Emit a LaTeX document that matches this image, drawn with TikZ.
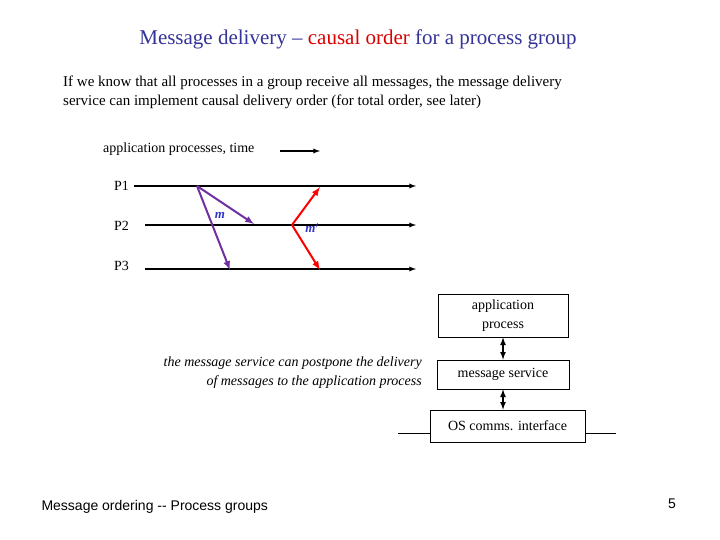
\documentclass[tikz,border=0pt]{standalone}
\usepackage{fontspec}
\setmainfont{Liberation Serif}
\newfontfamily\arialf{Liberation Sans}
\begin{document}
\begin{tikzpicture}[x=1pt,y=-1pt,
  ln/.style={line width=1.3pt,-latex},
  pu/.style={line width=2pt,draw={rgb,255:red,112;green,48;blue,160},-latex},
  rd/.style={line width=2pt,draw=red,-latex},
  bx/.style={draw,line width=0.8pt,align=center,inner sep=0pt,font=\fontsize{14}{19}\selectfont},
  txt/.style={font=\fontsize{14}{19}\selectfont,inner sep=0pt},
  da/.style={line width=1.6pt,latex-latex}]
\useasboundingbox (0,0) rectangle (720,540);
\node[font=\fontsize{21}{25}\selectfont,text={rgb,255:red,51;green,51;blue,153}] (title) at (358,39) {Message delivery -- \textcolor{red!85!black}{causal order} for a process group};
\node[txt,anchor=west,align=left,font=\fontsize{15}{19}\selectfont] (para) at (63,92) {If we know that all processes in a group receive all messages, the message delivery\\service can implement causal delivery order (for total order, see later)};
\node[txt,anchor=west] (tl) at (103,149) {application processes, time};
\coordinate (ta) at (280,151); \coordinate (tb) at (320,151);
\draw[ln] (ta) -- (tb);
\node[txt,anchor=west] (p1) at (114,186) {P1};
\node[txt,anchor=west] (p2) at (114,226) {P2};
\node[txt,anchor=west] (p3) at (114,266) {P3};
\coordinate (a1) at (134,186); \coordinate (b1) at (416,186);
\coordinate (a2) at (145,225); \coordinate (b2) at (416,225);
\coordinate (a3) at (145,269); \coordinate (b3) at (416,269);
\draw[ln] (a1)--(b1); \draw[ln] (a2)--(b2); \draw[ln] (a3)--(b3);
\coordinate (ms) at (197,186); \coordinate (mr2) at (254,224); \coordinate (mr3) at (230,270);
\draw[pu] (ms)--(mr2); \draw[pu] (ms)--(mr3);
\coordinate (ns) at (292,225); \coordinate (nr1) at (320,187); \coordinate (nr3) at (320,270);
\draw[rd] (ns)--(nr1); \draw[rd] (ns)--(nr3);
\node[font=\fontsize{13}{15}\selectfont\itshape\bfseries,text={rgb,255:red,51;green,51;blue,204}] (m) at (220,215) {m};
\node[font=\fontsize{13}{15}\selectfont\itshape\bfseries,text={rgb,255:red,51;green,51;blue,204}] (mp) at (312,228) {m$'$};
\node[bx,minimum width=130,minimum height=43] (ap) at (503,315.5) {application\\process};
\node[bx,minimum width=132,minimum height=29] (ms2) at (503,374.5) {message service};
\node[bx,minimum width=155,minimum height=32] (os) at (507.5,426) {OS comms. interface};
\coordinate (l1) at (398,433); \coordinate (r1) at (616,433);
\draw[line width=0.8pt] (l1) -- (os.west|-l1); \draw[line width=0.8pt] (os.east|-r1) -- (r1);
\draw[da] (ap.south) -- (ms2.north);
\draw[da] (ms2.south) -- (ms2.south|-os.north);
\node[txt,anchor=east,align=right,font=\fontsize{14}{19}\selectfont\itshape] (pp) at (422,372.5) {the message service can postpone the delivery\\of messages to the application process};
\node[anchor=west,font=\arialf\fontsize{14}{16}\selectfont] (foot) at (38,507) {Message ordering -- Process groups};
\node[font=\arialf\fontsize{14}{16}\selectfont] (pg) at (672,504) {5};
\end{tikzpicture}
\end{document}
